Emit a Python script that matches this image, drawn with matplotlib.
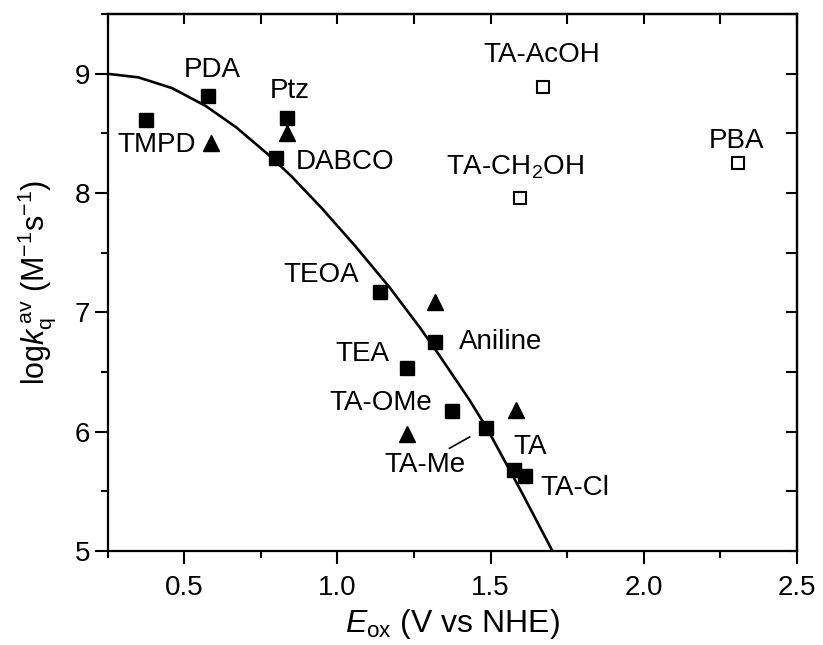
import matplotlib
matplotlib.use("Agg")
import matplotlib.pyplot as plt
from matplotlib.ticker import MultipleLocator

plt.rcParams["font.family"] = ["Liberation Sans", "DejaVu Sans"]
plt.rcParams["mathtext.fontset"] = "custom"
plt.rcParams["mathtext.rm"] = "Liberation Sans"
plt.rcParams["mathtext.it"] = "Liberation Sans:italic"

# filled squares (log kq, averaged)
sq_x = [0.376, 0.578, 0.834, 0.80, 1.14, 1.226, 1.32, 1.373, 1.484, 1.578, 1.614]
sq_y = [8.61, 8.81, 8.63, 8.29, 7.17, 6.53, 6.75, 6.17, 6.03, 5.68, 5.63]

# filled triangles
tri_x = [0.588, 0.834, 1.32, 1.226, 1.582]
tri_y = [8.42, 8.50, 7.09, 5.98, 6.18]

# open squares (outliers)
open_x = [1.673, 1.595, 2.307]
open_y = [8.89, 7.96, 8.25]

# fitted curve
curve_x = [0.25, 0.35, 0.46, 0.57, 0.67, 0.78, 0.85, 0.95, 1.06, 1.17, 1.27,
           1.33, 1.43, 1.49, 1.60, 1.70]
curve_y = [9.00, 8.97, 8.88, 8.73, 8.55, 8.31, 8.14, 7.87, 7.55, 7.21, 6.87,
           6.65, 6.27, 6.02, 5.50, 5.01]

labels = ["PDA", "Ptz", "TMPD", "DABCO", "TEOA", "TA-AcOH",
          "TA-CH$_2$OH", "PBA", "Aniline", "TEA", "TA-OMe", "TA-Me", "TA", "TA-Cl"]
label_x = [0.59, 0.843, 0.41, 1.026, 0.948, 1.667, 1.58, 2.305, 1.533, 1.08,
           1.14, 1.285, 1.63, 1.775]
label_y = [9.03, 8.86, 8.40, 8.26, 7.31, 9.16, 8.22, 8.44, 6.75, 6.65, 6.24,
           5.72, 5.87, 5.53]

fig = plt.figure(figsize=(8.23, 6.45), dpi=100)
ax = fig.add_axes([0.131, 0.146, 0.837, 0.832])

ax.plot(curve_x, curve_y, color="black", lw=1.9, zorder=2)
ax.plot(sq_x, sq_y, "s", color="black", ms=10.5, zorder=3)
ax.plot(tri_x, tri_y, "^", color="black", ms=12, zorder=3)
ax.plot(open_x, open_y, "s", mfc="white", mec="black", mew=1.5, ms=8.5, zorder=3)

for t, x, y in zip(labels, label_x, label_y):
    ax.text(x, y, t, fontsize=20, ha="center", va="center", zorder=4)

# leader line for TA-Me
ax.plot([1.366, 1.432], [5.86, 5.955], color="black", lw=1.2)

ax.set_xlim(0.25, 2.5)
ax.set_ylim(5, 9.5)
ax.xaxis.set_major_locator(MultipleLocator(0.5))
ax.xaxis.set_minor_locator(MultipleLocator(0.25))
ax.yaxis.set_major_locator(MultipleLocator(1))
ax.yaxis.set_minor_locator(MultipleLocator(0.5))
ax.set_xticks([0.5, 1.0, 1.5, 2.0, 2.5])
ax.set_xticklabels(["0.5", "1.0", "1.5", "2.0", "2.5"])

for s in ax.spines.values():
    s.set_linewidth(1.6)
ax.tick_params(which="both", direction="out", width=1.5, labelsize=20)
ax.tick_params(which="major", length=9.5)
ax.tick_params(which="minor", length=5)
ax.tick_params(axis="x", which="major", pad=8)
ax.tick_params(axis="y", which="major", pad=3)

# inward ticks on top and right, like the original
top = ax.secondary_xaxis("top")
top.xaxis.set_major_locator(MultipleLocator(0.25))
top.tick_params(direction="in", length=7, width=1.5, labeltop=False)
right = ax.secondary_yaxis("right")
right.yaxis.set_major_locator(MultipleLocator(0.5))
right.tick_params(direction="in", length=8, width=1.5, labelright=False)
top.spines["top"].set_linewidth(1.6)
right.spines["right"].set_linewidth(1.6)

ax.set_xlabel(r"$E_\mathrm{ox}$ (V vs NHE)", fontsize=23, labelpad=4)
ax.set_ylabel(r"log$k_\mathrm{q}^{\,\mathrm{av}}$ (M$^{-1}$s$^{-1}$)", fontsize=22, labelpad=12)

fig.savefig("out.png", dpi=100)
